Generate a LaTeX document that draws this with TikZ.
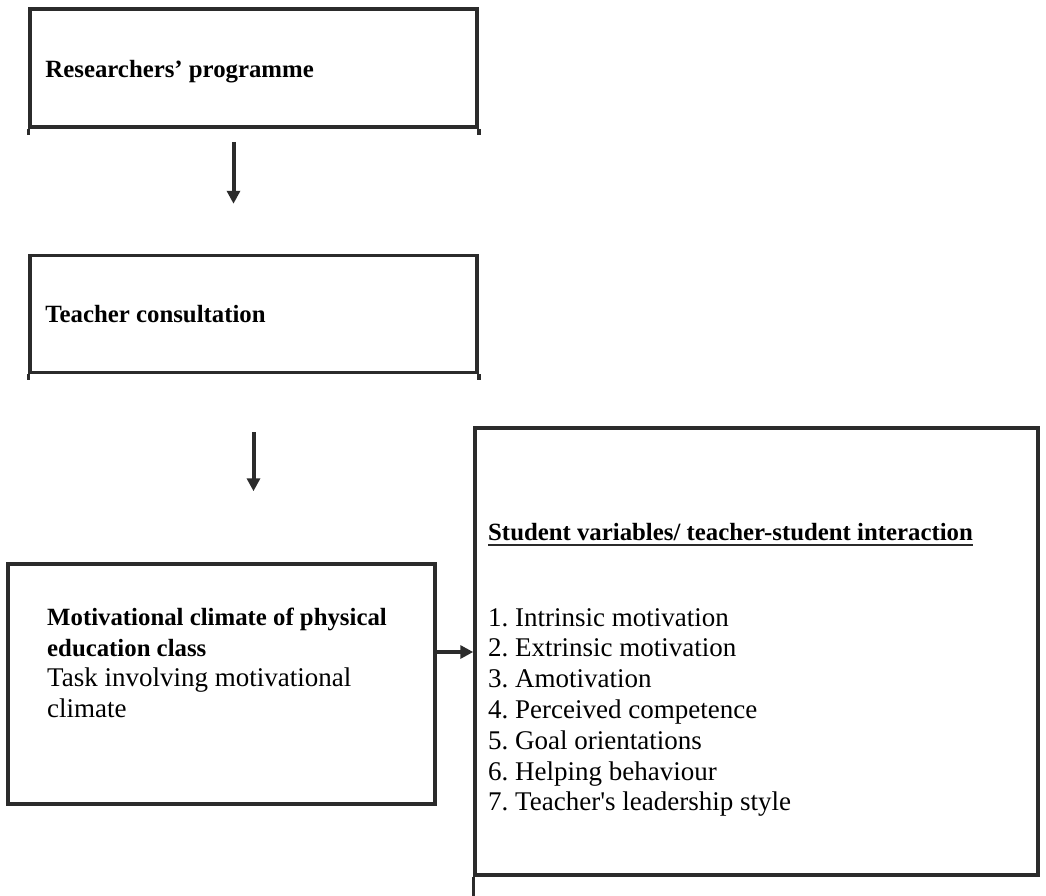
\documentclass[tikz,border=0pt]{standalone}
\usepackage{fontspec}
\setmainfont{Liberation Serif}
\usepackage{xcolor}
\usetikzlibrary{arrows.meta,positioning}

\definecolor{frame}{HTML}{2B2B2B}
\newcommand\bhd[1]{{\fontsize{24.8}{30.5}\selectfont\bfseries #1}}

\begin{document}
\begin{tikzpicture}[x=1pt, y=-1pt,
                    >={Triangle[width=13pt,length=13pt]},
                    box/.style={draw=frame, line width=3.5pt, inner sep=0pt},
                    txt/.style={inner sep=0pt, align=left, font=\fontsize{27}{30.5}\selectfont},
                    flow/.style={->, draw=frame, line width=4pt}]
\useasboundingbox (0,0) rectangle (1046,895);
% the four boxes
\node[box, minimum width=447pt, minimum height=118pt] (research) at (253.5,68) {};
\node[box, minimum width=447pt, minimum height=117pt, below=125pt of research] (consult) {};
\node[box, minimum width=427pt, minimum height=240pt] (climate) at (221.5,684) {};
\node[box, minimum width=563pt, minimum height=447pt] (variables) at (756.5,651.5) {};
\foreach \b in {research,consult} {
  \draw[box] (\b.south west) -- ++(0,6);
  \draw[box] (\b.south east) -- ++(0,6);
}
\draw[box] (variables.south west) -- ++(0,25);
% texts
\node[txt, anchor=base west] (researchlbl) at ([xshift=17pt,yshift=-9pt]research.west) {\bhd{Researchers' programme}};
\node[txt, anchor=base west] (consultlbl) at ([xshift=17pt,yshift=-8pt]consult.west) {\bhd{Teacher consultation}};
\node[txt, anchor=north west] (climatelbl) at (47,608) {\bhd{Motivational climate of physical}\\
  \bhd{education class}\\ Task involving motivational\\ climate};
\node[txt, anchor=base west] (head) at (488,540) {\bhd{Student variables/ teacher-student interaction}};
\draw[frame, line width=2.2pt] ([yshift=-5pt]head.base west) -- ([yshift=-5pt]head.base east);
\foreach \i/\t in {1/Intrinsic motivation, 2/Extrinsic motivation, 3/Amotivation,
                   4/Perceived competence, 5/Goal orientations, 6/Helping behaviour,
                   7/Teacher\textquotesingle s leadership style}
  \node[txt, anchor=base west] (item\i) at (488,595.2+30.8*\i) {\i.\ \t};
% arrows
\draw[flow, shorten <=13pt, shorten >=50pt] ([xshift=-20pt]research.south) -- ([xshift=-20pt]consult.north);
\draw[flow, shorten <=58pt, shorten >=71pt] (consult.south) -- (consult.south |- climate.north);
\draw[flow] ([yshift=32pt]climate.east) -- ([yshift=32pt]climate.east -| variables.west);
\end{tikzpicture}
\end{document}
